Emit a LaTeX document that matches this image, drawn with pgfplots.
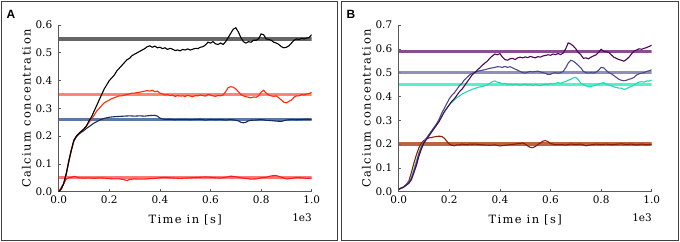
\documentclass[border=0pt]{standalone}
\usepackage{pgfplots}
\pgfplotsset{compat=1.18}
\usepackage{fontspec}
\setmainfont{DejaVu Serif}
\newfontfamily\spacedfont[LetterSpace=12]{DejaVu Serif}
\newfontfamily\tickfont{DejaVu Serif}
\newfontfamily\labfont{Liberation Sans}

\definecolor{cBlack}{HTML}{000000}
\definecolor{hGray}{HTML}{555555}
\definecolor{cRed}{HTML}{FF2A08}
\definecolor{hRed}{HTML}{FF7A60}
\definecolor{cNavy}{HTML}{1A2A5C}
\definecolor{hNavy}{HTML}{4A6A9A}
\definecolor{cRed2}{HTML}{FF1A1A}
\definecolor{hRed2}{HTML}{FF6A6A}
\definecolor{cPurple}{HTML}{4A0A52}
\definecolor{hPurple}{HTML}{7E3A86}
\definecolor{cSlate}{HTML}{4A4A8C}
\definecolor{hSlate}{HTML}{8484AC}
\definecolor{cCyan}{HTML}{22D8B4}
\definecolor{hCyan}{HTML}{44F0C4}
\definecolor{cBrown}{HTML}{921E02}
\definecolor{hBrown}{HTML}{B4542E}

\pgfplotsset{panel/.style={
  scale only axis, width=253bp, height=166.7bp, anchor=south west,
  axis lines*=left, clip mode=individual,
  axis line style={draw=black!65, line width=0.8bp},
  xmin=0, xmax=1000, ymin=0,
  xtick={0,200,...,1000},
  xticklabel={\pgfmathparse{\tick/1000}\pgfmathprintnumber[fixed,fixed zerofill,precision=1,assume math mode=true]{\pgfmathresult}},
  /pgf/number format/fixed, /pgf/number format/fixed zerofill,
  /pgf/number format/precision=1, /pgf/number format/assume math mode=true,
  tick align=inside, major tick length=2.5bp,
  tick style={draw=black!65, line width=0.6bp},
  ticklabel style={font=\tickfont\fontsize{10.5}{12}\selectfont},
  label style={font=\spacedfont\fontsize{11.5}{13}\selectfont},
  xticklabel style={yshift=-0.5bp},
  yticklabel style={xshift=-3bp},
  xlabel={Time in [s]}, ylabel={Calcium concentration},
  xlabel style={anchor=center, at={(axis description cs:0.5,-0.17)}},
  ylabel style={anchor=center, at={(axis description cs:-0.128,0.5)}},
  hl/.style={line width=3.3bp, opacity=0.9},
  cv/.style={line width=1.1bp},
  every axis plot/.append style={mark=none},
}}

\begin{document}
\begin{tikzpicture}
\useasboundingbox (0,0) rectangle (680bp,242bp);
\draw[black!75, line width=1.5bp] (1.5bp,1.5bp) rectangle (337.5bp,240.5bp);
\draw[black!75, line width=1.5bp] (341.5bp,1.5bp) rectangle (678.5bp,240.5bp);
\node[font=\labfont\bfseries\fontsize{12}{14}\selectfont] at (11bp,228bp) {A};
\node[font=\labfont\bfseries\fontsize{12}{14}\selectfont] at (351bp,228bp) {B};

% ---------------- Panel A ----------------
\begin{axis}[panel, at={(58.7bp,50.3bp)}, ymax=0.6, ytick={0,0.1,...,0.61}]
\addplot[hl, hGray] coordinates {(0,0.55) (1000,0.55)};
\addplot[hl, hRed] coordinates {(0,0.35) (1000,0.35)};
\addplot[hl, hNavy] coordinates {(0,0.26) (1000,0.26)};
\addplot[hl, hRed2] coordinates {(0,0.05) (1000,0.05)};
% low red
\addplot[cv, cRed2] coordinates {(0,0) (10,0.015) (20,0.03) (30,0.045) (40,0.05) (50,0.052) (60,0.055) (70,0.053) (80,0.05) (100,0.049) (120,0.05) (140,0.048) (160,0.05) (180,0.049) (200,0.047) (220,0.046) (240,0.046) (260,0.043) (270,0.04) (280,0.044) (300,0.046) (320,0.045) (340,0.045) (360,0.047) (380,0.048) (400,0.05) (420,0.052) (440,0.05) (460,0.049) (480,0.048) (500,0.049) (520,0.05) (540,0.051) (560,0.052) (580,0.053) (600,0.052) (620,0.05) (640,0.049) (660,0.052) (680,0.056) (700,0.054) (720,0.05) (740,0.048) (760,0.045) (780,0.046) (800,0.05) (820,0.052) (840,0.057) (860,0.058) (880,0.052) (900,0.046) (920,0.048) (940,0.051) (960,0.05) (980,0.048) (1000,0.049)};
% navy
\addplot[cv, cNavy] coordinates {(0,0) (10,0.01) (20,0.03) (30,0.065) (40,0.11) (50,0.15) (60,0.182) (70,0.198) (80,0.207) (90,0.214) (100,0.22) (110,0.228) (120,0.234) (130,0.241) (140,0.247) (150,0.252) (160,0.257) (170,0.261) (180,0.264) (190,0.266) (200,0.268) (220,0.27) (240,0.271) (260,0.272) (280,0.273) (300,0.272) (320,0.273) (340,0.272) (360,0.274) (380,0.275) (390,0.272) (400,0.265) (410,0.262) (420,0.26) (440,0.261) (460,0.259) (480,0.26) (500,0.26) (520,0.259) (540,0.26) (560,0.261) (580,0.258) (600,0.26) (620,0.259) (640,0.26) (660,0.258) (680,0.26) (700,0.257) (710,0.255) (720,0.25) (730,0.248) (740,0.25) (750,0.255) (760,0.257) (780,0.258) (800,0.26) (820,0.257) (840,0.256) (860,0.254) (880,0.253) (900,0.258) (920,0.26) (940,0.259) (960,0.26) (980,0.261) (1000,0.26)};
% red
\addplot[cv, cRed] coordinates {(0,0) (10,0.01) (20,0.03) (30,0.065) (40,0.11) (50,0.15) (60,0.185) (70,0.2) (80,0.21) (90,0.218) (100,0.226) (110,0.237) (120,0.25) (130,0.262) (140,0.275) (150,0.29) (160,0.3) (170,0.31) (180,0.32) (190,0.325) (200,0.33) (210,0.335) (220,0.338) (230,0.342) (240,0.345) (250,0.345) (260,0.348) (270,0.35) (280,0.352) (290,0.355) (300,0.355) (310,0.357) (320,0.358) (330,0.36) (340,0.362) (350,0.364) (360,0.362) (370,0.365) (380,0.36) (390,0.362) (400,0.355) (410,0.352) (420,0.348) (430,0.35) (440,0.346) (450,0.348) (460,0.343) (470,0.346) (480,0.344) (490,0.345) (500,0.343) (510,0.347) (520,0.344) (530,0.342) (540,0.346) (550,0.345) (560,0.348) (570,0.346) (580,0.344) (590,0.35) (600,0.348) (610,0.345) (620,0.343) (630,0.347) (640,0.345) (650,0.348) (660,0.36) (670,0.375) (680,0.378) (690,0.376) (700,0.37) (710,0.36) (720,0.35) (730,0.345) (740,0.342) (750,0.34) (760,0.338) (770,0.341) (780,0.34) (790,0.345) (800,0.358) (810,0.365) (820,0.355) (830,0.348) (840,0.345) (850,0.343) (860,0.345) (870,0.338) (880,0.33) (890,0.322) (900,0.32) (910,0.325) (920,0.33) (930,0.34) (940,0.345) (950,0.345) (960,0.35) (970,0.348) (980,0.352) (990,0.353) (1000,0.358)};
% black
\addplot[cv, cBlack] coordinates {(0,0) (10,0.01) (20,0.03) (30,0.065) (40,0.11) (50,0.15) (60,0.185) (70,0.2) (80,0.21) (90,0.218) (100,0.226) (110,0.237) (120,0.255) (130,0.27) (140,0.29) (150,0.31) (160,0.33) (170,0.35) (180,0.37) (190,0.385) (200,0.4) (210,0.41) (220,0.42) (230,0.435) (240,0.445) (250,0.455) (260,0.465) (270,0.475) (280,0.48) (290,0.49) (300,0.495) (310,0.5) (320,0.505) (330,0.51) (340,0.515) (350,0.522) (360,0.525) (370,0.52) (380,0.524) (390,0.518) (400,0.52) (410,0.515) (420,0.518) (430,0.512) (440,0.516) (450,0.513) (460,0.508) (470,0.51) (480,0.507) (490,0.512) (500,0.51) (510,0.514) (520,0.51) (530,0.513) (540,0.516) (550,0.515) (560,0.52) (570,0.522) (580,0.528) (590,0.538) (600,0.535) (610,0.54) (620,0.532) (630,0.53) (640,0.535) (650,0.53) (660,0.54) (670,0.555) (680,0.57) (690,0.585) (700,0.59) (710,0.575) (720,0.555) (730,0.54) (740,0.535) (750,0.54) (760,0.538) (770,0.545) (780,0.545) (790,0.55) (800,0.568) (810,0.565) (820,0.55) (830,0.548) (840,0.545) (850,0.538) (860,0.535) (870,0.53) (880,0.522) (890,0.518) (900,0.52) (910,0.525) (920,0.535) (930,0.545) (940,0.55) (950,0.548) (960,0.552) (970,0.55) (980,0.553) (990,0.555) (1000,0.565)};
\node[font=\tickfont\fontsize{10.5}{12}\selectfont] at ([xshift=-9.7bp,yshift=-26.3bp]rel axis cs:1,0) {1e3};
\end{axis}

% ---------------- Panel B ----------------
\begin{axis}[panel, at={(398.7bp,50.3bp)}, ymax=0.7, ytick={0,0.1,...,0.71}]
\addplot[hl, hPurple] coordinates {(0,0.59) (1000,0.59)};
\addplot[hl, hSlate] coordinates {(0,0.50) (1000,0.50)};
\addplot[hl, hCyan] coordinates {(0,0.45) (1000,0.45)};
\addplot[hl, hBrown] coordinates {(0,0.20) (1000,0.20)};
% brown
\addplot[cv, cBrown] coordinates {(0,0.01) (10,0.015) (20,0.02) (30,0.03) (40,0.045) (50,0.08) (60,0.12) (70,0.155) (80,0.185) (90,0.205) (100,0.215) (110,0.222) (120,0.226) (130,0.228) (140,0.23) (150,0.232) (160,0.233) (170,0.232) (180,0.225) (190,0.212) (200,0.2) (210,0.195) (220,0.193) (230,0.197) (240,0.196) (250,0.2) (260,0.198) (270,0.197) (280,0.2) (290,0.199) (300,0.2) (320,0.198) (340,0.196) (360,0.195) (380,0.197) (400,0.192) (420,0.195) (440,0.197) (460,0.2) (480,0.203) (490,0.205) (500,0.2) (510,0.192) (520,0.186) (530,0.185) (540,0.19) (550,0.198) (560,0.205) (570,0.212) (580,0.215) (590,0.21) (600,0.202) (620,0.197) (640,0.198) (660,0.196) (680,0.2) (700,0.198) (720,0.2) (740,0.193) (760,0.197) (780,0.2) (800,0.198) (820,0.2) (840,0.197) (860,0.199) (880,0.201) (900,0.198) (920,0.2) (940,0.196) (960,0.2) (980,0.197) (1000,0.199)};
% cyan
\addplot[cv, cCyan] coordinates {(0,0.01) (20,0.02) (40,0.04) (50,0.06) (60,0.095) (70,0.13) (80,0.165) (90,0.19) (100,0.21) (110,0.225) (120,0.24) (130,0.255) (140,0.27) (150,0.285) (160,0.3) (170,0.315) (180,0.335) (190,0.35) (200,0.365) (210,0.375) (220,0.385) (230,0.395) (240,0.402) (250,0.41) (260,0.415) (270,0.42) (280,0.425) (290,0.43) (300,0.433) (310,0.437) (320,0.44) (330,0.442) (340,0.445) (350,0.448) (360,0.455) (370,0.462) (380,0.465) (390,0.46) (400,0.458) (410,0.452) (420,0.455) (430,0.45) (440,0.452) (450,0.448) (460,0.452) (470,0.45) (480,0.447) (490,0.45) (500,0.452) (510,0.448) (520,0.45) (530,0.446) (540,0.45) (550,0.448) (560,0.445) (570,0.45) (580,0.452) (590,0.45) (600,0.455) (610,0.452) (620,0.455) (630,0.458) (640,0.455) (650,0.46) (660,0.462) (670,0.468) (680,0.472) (690,0.478) (700,0.48) (710,0.47) (720,0.455) (730,0.45) (740,0.445) (750,0.44) (760,0.442) (770,0.445) (780,0.448) (790,0.452) (800,0.455) (810,0.458) (820,0.452) (830,0.448) (840,0.445) (850,0.44) (860,0.438) (870,0.435) (880,0.435) (890,0.43) (900,0.432) (910,0.438) (920,0.442) (930,0.448) (940,0.455) (950,0.46) (960,0.462) (970,0.46) (980,0.465) (990,0.465) (1000,0.468)};
% slate
\addplot[cv, cSlate] coordinates {(0,0.01) (20,0.02) (40,0.04) (50,0.055) (60,0.085) (70,0.12) (80,0.16) (90,0.19) (100,0.21) (110,0.225) (120,0.24) (130,0.255) (140,0.27) (150,0.285) (160,0.305) (170,0.33) (180,0.35) (190,0.37) (200,0.39) (210,0.405) (220,0.415) (230,0.43) (240,0.445) (250,0.455) (260,0.47) (270,0.48) (280,0.49) (290,0.497) (300,0.5) (310,0.505) (320,0.508) (330,0.51) (340,0.512) (350,0.515) (360,0.518) (370,0.52) (380,0.522) (390,0.525) (400,0.524) (410,0.522) (420,0.526) (430,0.522) (440,0.525) (450,0.52) (460,0.515) (470,0.51) (480,0.505) (490,0.5) (500,0.498) (510,0.502) (520,0.505) (530,0.503) (540,0.505) (550,0.506) (560,0.503) (570,0.5) (580,0.497) (590,0.492) (600,0.493) (610,0.498) (620,0.5) (630,0.497) (640,0.5) (650,0.505) (660,0.52) (670,0.54) (680,0.552) (690,0.548) (700,0.54) (710,0.53) (720,0.52) (730,0.505) (740,0.5) (750,0.498) (760,0.5) (770,0.498) (780,0.502) (790,0.51) (800,0.522) (810,0.52) (820,0.51) (830,0.5) (840,0.495) (850,0.488) (860,0.48) (870,0.472) (880,0.468) (890,0.466) (900,0.468) (910,0.472) (920,0.475) (930,0.48) (940,0.49) (950,0.495) (960,0.498) (970,0.5) (980,0.505) (990,0.508) (1000,0.512)};
% purple
\addplot[cv, cPurple] coordinates {(0,0.01) (20,0.02) (40,0.035) (50,0.05) (60,0.08) (70,0.11) (80,0.15) (90,0.18) (100,0.205) (110,0.22) (120,0.235) (130,0.25) (140,0.265) (150,0.28) (160,0.295) (170,0.315) (180,0.335) (190,0.35) (200,0.365) (210,0.38) (220,0.39) (230,0.405) (240,0.42) (250,0.43) (260,0.445) (270,0.46) (280,0.475) (290,0.49) (300,0.5) (310,0.51) (320,0.52) (330,0.53) (340,0.54) (350,0.548) (360,0.56) (370,0.57) (380,0.578) (390,0.575) (400,0.58) (410,0.565) (420,0.555) (430,0.552) (440,0.558) (450,0.56) (460,0.555) (470,0.562) (480,0.565) (490,0.562) (500,0.566) (510,0.563) (520,0.568) (530,0.565) (540,0.562) (550,0.567) (560,0.565) (570,0.57) (580,0.572) (590,0.575) (600,0.573) (610,0.578) (620,0.576) (630,0.58) (640,0.576) (650,0.582) (660,0.6) (670,0.625) (680,0.62) (690,0.612) (700,0.6) (710,0.585) (720,0.575) (730,0.56) (740,0.562) (750,0.558) (760,0.565) (770,0.57) (780,0.575) (790,0.585) (800,0.598) (810,0.59) (820,0.588) (830,0.585) (840,0.575) (850,0.565) (860,0.56) (870,0.555) (880,0.552) (890,0.548) (900,0.555) (910,0.565) (920,0.578) (930,0.59) (940,0.595) (950,0.6) (960,0.598) (970,0.602) (980,0.605) (990,0.61) (1000,0.615)};
\node[font=\tickfont\fontsize{10.5}{12}\selectfont] at ([xshift=-9.7bp,yshift=-26.3bp]rel axis cs:1,0) {1e3};
\end{axis}
\end{tikzpicture}
\end{document}
